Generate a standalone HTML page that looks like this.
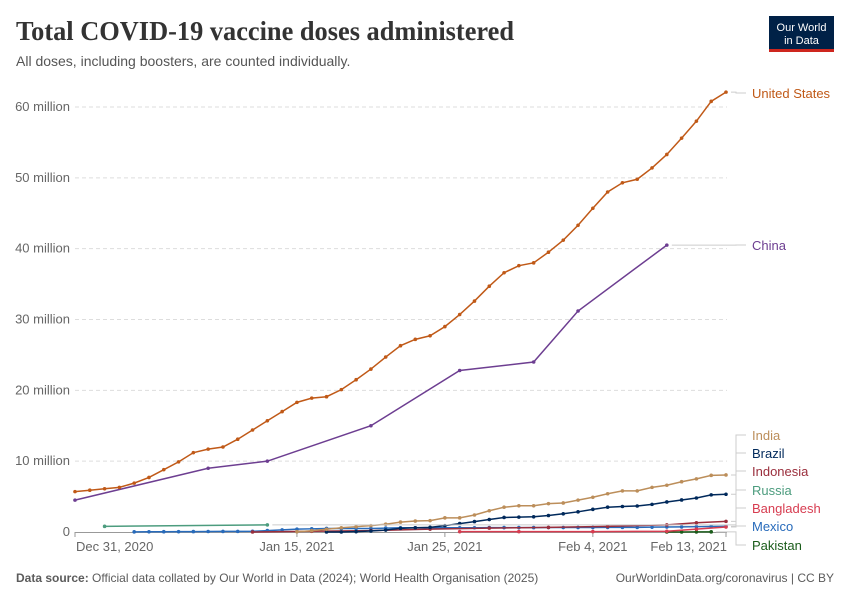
<!DOCTYPE html>
<html><head><meta charset="utf-8"><style>
body{margin:0;background:#fff}
svg text{font-family:"Liberation Sans",sans-serif}
</style></head><body>
<svg id="c" width="850" height="600" xmlns="http://www.w3.org/2000/svg">
<text x="16" y="40" font-size="27" font-weight="bold" fill="#333" textLength="498" lengthAdjust="spacingAndGlyphs" style="font-family:'Liberation Serif',serif">Total COVID-19 vaccine doses administered</text>
<text x="16" y="66" font-size="14" fill="#555">All doses, including boosters, are counted individually.</text>
<g>
<rect x="769" y="16" width="65" height="34" fill="#002147"/>
<rect x="769" y="49" width="65" height="3" fill="#ce261e"/>
<text x="801.5" y="31" font-size="11" fill="#fff" text-anchor="middle">Our World</text>
<text x="801.5" y="44" font-size="11" fill="#fff" text-anchor="middle">in Data</text>
</g>
<g id="grid"></g><g id="lines"></g><g id="legend"></g>
<text x="16" y="582" font-size="12" fill="#5b5b5b"><tspan font-weight="bold">Data source:</tspan> Official data collated by Our World in Data (2024); World Health Organisation (2025)</text>
<text x="834" y="582" font-size="12" fill="#5b5b5b" text-anchor="end">OurWorldinData.org/coronavirus | CC BY</text>
</svg>
<script>
const yTicks=[0,10,20,30,40,50,60];
const yTickLabels=["0","10 million","20 million","30 million","40 million","50 million","60 million"];
const xTickDays=[0,15,25,35,44];
const xTickLabels=["Dec 31, 2020","Jan 15, 2021","Jan 25, 2021","Feb 4, 2021","Feb 13, 2021"];
const seriesNames=["United States","China","India","Brazil","Indonesia","Russia","Bangladesh","Mexico","Pakistan"];
const seriesColors=["#c05917","#6d3e91","#bc8e5a","#00295b","#9a2e3c","#4c9c7e","#d73c50","#286bbb","#1a5c1a"];
const usDays=[0,1,2,3,4,5,6,7,8,9,10,11,12,13,14,15,16,17,18,19,20,21,22,23,24,25,26,27,28,29,30,31,32,33,34,35,36,37,38,39,40,41,42,43,44];
const usVals=[5.7,5.9,6.1,6.3,6.9,7.7,8.8,9.9,11.2,11.7,12.0,13.1,14.4,15.7,17.0,18.3,18.9,19.1,20.1,21.5,23.0,24.7,26.3,27.2,27.7,29.0,30.7,32.6,34.7,36.6,37.6,38.0,39.5,41.2,43.3,45.7,48.0,49.3,49.8,51.4,53.3,55.6,58.0,60.8,62.1];
const chinaDays=[0,9,13,20,26,31,34,40];
const chinaVals=[4.5,9.0,10.0,15.0,22.8,24.0,31.2,40.5];
const indiaDays=[15,16,17,18,19,20,21,22,23,24,25,26,27,28,29,30,31,32,33,34,35,36,37,38,39,40,41,42,43,44];
const indiaVals=[0.04,0.18,0.38,0.6,0.75,0.9,1.1,1.4,1.55,1.6,2.0,2.0,2.4,3.0,3.5,3.7,3.7,4.0,4.1,4.5,4.9,5.4,5.8,5.8,6.3,6.6,7.1,7.5,8.0,8.05];
const brazilDays=[17,18,19,20,21,22,23,24,25,26,27,28,29,30,31,32,33,34,35,36,37,38,39,40,41,42,43,44];
const brazilVals=[0.0,0.0,0.05,0.14,0.28,0.52,0.6,0.66,0.9,1.19,1.47,1.76,2.05,2.1,2.15,2.33,2.57,2.85,3.2,3.5,3.6,3.67,3.9,4.24,4.52,4.8,5.24,5.33];
const indoDays=[12,16,20,24,28,32,36,40,42,44];
const indoVals=[0.0,0.1,0.2,0.4,0.55,0.65,0.8,1.0,1.3,1.5];
const russiaDays=[2,13];
const russiaVals=[0.8,1.0];
const bangDays=[26,30,35,40,42,44];
const bangVals=[0.05,0.06,0.06,0.1,0.4,0.7];
const mexDays=[4,5,6,7,8,9,10,11,12,13,14,15,16,17,18,19,20,21,22,23,24,25,26,27,28,29,30,31,32,33,34,35,36,37,38,39,40,41,42,43,44];
const mexVals=[0.02,0.03,0.04,0.05,0.06,0.07,0.08,0.09,0.1,0.2,0.3,0.4,0.45,0.5,0.5,0.5,0.5,0.55,0.6,0.6,0.6,0.6,0.6,0.6,0.62,0.62,0.62,0.62,0.63,0.63,0.64,0.64,0.65,0.66,0.66,0.68,0.7,0.72,0.75,0.78,0.8];
const pakDays=[40,41,42,43];
const pakVals=[0.0,0.0,0.01,0.02];
const legendY=[94,246,436,454,472,491,509,527,546];

const xS=d=>75+d*(726-75)/44;
const yS=v=>532-v*(532-107)/60;
const NS="http://www.w3.org/2000/svg";
function mk(t,a,p){const e=document.createElementNS(NS,t);for(const k in a)e.setAttribute(k,a[k]);p.appendChild(e);return e;}
const grid=document.getElementById('grid');
yTicks.forEach((v,i)=>{
  if(v>0){const l=mk('line',{x1:75,x2:727,y1:yS(v),y2:yS(v),stroke:'#ddd','stroke-dasharray':'4,3'},grid);
  
  }
  const t=mk('text',{x:70,y:yS(v)+4,'font-size':13,fill:'#666','text-anchor':'end'},grid);
  t.textContent=yTickLabels[i];
  
  
});
const ax=mk('line',{x1:75,x2:727,y1:532.5,y2:532.5,stroke:'#999'},grid);


xTickDays.forEach((d,i)=>{
  mk('line',{x1:xS(d),x2:xS(d),y1:532,y2:537,stroke:'#999'},grid);
  const last=i==xTickDays.length-1;
  const anc=i==0?'start':(last?'end':'middle');
  const t=mk('text',{x:i==0?xS(d)+1:(last?xS(d)+1:xS(d)),y:551,'font-size':13,fill:'#666','text-anchor':anc},grid);
  t.textContent=xTickLabels[i];
  
  
});
const data=[[usDays,usVals],[chinaDays,chinaVals],[indiaDays,indiaVals],[brazilDays,brazilVals],[indoDays,indoVals],[russiaDays,russiaVals],[bangDays,bangVals],[mexDays,mexVals],[pakDays,pakVals]];
const lines=document.getElementById('lines');
const order=[8,7,6,5,4,3,2,1,0];
order.forEach(i=>{
  const [ds,vs]=data[i];const c=seriesColors[i];
  const g=mk('g',{},lines);
  
  
  mk('polyline',{points:ds.map((d,j)=>xS(d)+','+yS(vs[j])).join(' '),fill:'none',stroke:c,'stroke-width':1.5},g);
  ds.forEach((d,j)=>{const p=mk('circle',{cx:xS(d),cy:yS(vs[j]),r:1.8,fill:c},g);
  
  });
});
const leg=document.getElementById('legend');
seriesNames.forEach((n,i)=>{
  const [ds,vs]=data[i];const ey=yS(vs[vs.length-1]);const ly=legendY[i]-1;
  const g=mk('g',{},leg);
  
  
  mk('path',{d:`M${xS(ds[ds.length-1])+5},${ey} H736 V${ly} H746`,fill:'none',stroke:'#ccc'},g);
  const t=mk('text',{x:752,y:legendY[i]+4,'font-size':13,fill:seriesColors[i]},g);
  t.textContent=n;
});
</script>
</body></html>
